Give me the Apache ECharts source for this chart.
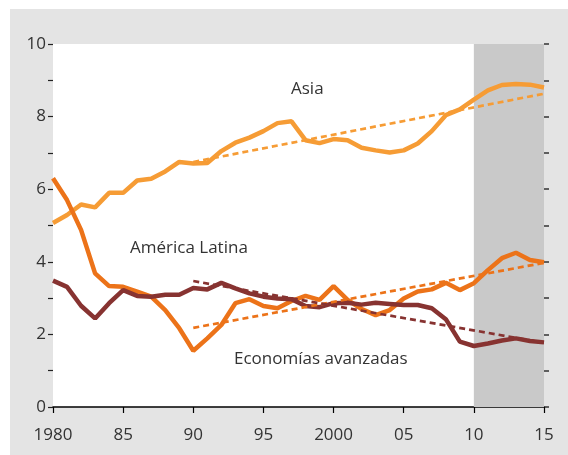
<!DOCTYPE html>
<html>
<head>
<meta charset="utf-8">
<script src="https://cdn.jsdelivr.net/npm/echarts@6/dist/echarts.min.js"></script>
<style>
html, body { margin: 0; padding: 0; background: #fff; }
#wrap { position: absolute; left: 10px; top: 9px; width: 558px; height: 446px; background: #e4e4e4; }
#chart { position: absolute; left: 0; top: 0; width: 568px; height: 455px; }
</style>
</head>
<body>
<div id="wrap"></div>
<div id="chart"></div>
<script>
// años 1980-2015
var years = [];
for (var y = 1980; y <= 2015; y++) years.push(y);

var asia = [5.07, 5.29, 5.58, 5.5, 5.9, 5.9, 6.24, 6.29, 6.49, 6.75, 6.71, 6.72, 7.05, 7.28, 7.42, 7.6, 7.82, 7.87, 7.35, 7.27, 7.38, 7.35, 7.14, 7.07, 7.01, 7.07, 7.26, 7.6, 8.04, 8.2, 8.47, 8.72, 8.87, 8.9, 8.88, 8.8];
var latina = [6.3, 5.7, 4.88, 3.68, 3.33, 3.31, 3.18, 3.04, 2.67, 2.17, 1.55, 1.89, 2.26, 2.86, 2.97, 2.78, 2.72, 2.92, 3.06, 2.95, 3.33, 2.95, 2.7, 2.53, 2.67, 2.99, 3.18, 3.24, 3.42, 3.22, 3.41, 3.77, 4.1, 4.25, 4.05, 3.99];
var avanzadas = [3.48, 3.31, 2.79, 2.44, 2.86, 3.22, 3.06, 3.04, 3.09, 3.09, 3.28, 3.24, 3.42, 3.27, 3.13, 3.04, 2.99, 2.97, 2.78, 2.75, 2.86, 2.87, 2.82, 2.87, 2.84, 2.81, 2.81, 2.72, 2.42, 1.8, 1.68, 1.75, 1.83, 1.89, 1.82, 1.78];

// tendencias 1990-2015
var trendYears = [1990, 2015];
var asiaTrend = [6.75, 8.63];
var latinaTrend = [2.18, 3.97];
var avanzadasTrend = [3.47, 1.77];

var shadeRange = [2010, 2015];
var xLabels = {1980: '1980', 1985: '85', 1990: '90', 1995: '95', 2000: '2000', 2005: '05', 2010: '10', 2015: '15'};

function pairs(xs, vs) {
    return xs.map(function (x, i) { return [x, vs[i]]; });
}

var font = 'Open Sans';
var textColor = '#333';
var myChart = echarts.init(document.getElementById('chart'), null, {renderer: 'canvas'});

function solid(name, vals, color) {
    return {
        name: name, type: 'line', data: pairs(years, vals), showSymbol: false, symbol: 'none',
        lineStyle: {color: color, width: 4.5}, z: 3
    };
}
function dashed(name, vals, color) {
    return {
        name: name, type: 'line', data: pairs(trendYears, vals), showSymbol: false, symbol: 'none',
        lineStyle: {color: color, width: 2.7, type: [6, 4]}, z: 4
    };
}

var option = {
    animation: false,
    grid: {left: 53, right: 24, top: 44, bottom: 48, show: true, backgroundColor: '#fff', borderWidth: 0},
    xAxis: {
        type: 'value', min: 1980, max: 2015, interval: 5,
        axisLine: {lineStyle: {color: '#000', width: 1.5}},
        axisTick: {length: 6, lineStyle: {color: '#000', width: 1.2}},
        axisLabel: {
            margin: 20, fontFamily: font, fontSize: 17, color: textColor,
            formatter: function (v) { return xLabels[v] || ''; }
        },
        splitLine: {show: false}
    },
    yAxis: [{
        type: 'value', min: 0, max: 10, interval: 1, position: 'left',
        axisLine: {show: false},
        axisTick: {show: true, length: 5, lineStyle: {color: '#222', width: 1.2}},
        axisLabel: {
            margin: 7, fontFamily: font, fontSize: 17, color: textColor,
            formatter: function (v) { return v % 2 === 0 ? String(v) : ''; }
        },
        splitLine: {show: false}
    }, {
        type: 'value', min: 0, max: 10, interval: 1, position: 'right',
        axisLine: {show: false},
        axisTick: {show: true, length: 5, lineStyle: {color: '#333', width: 1.5}},
        axisLabel: {show: false},
        splitLine: {show: false}
    }],
    graphic: [
        {type: 'text', left: 291, top: 81, style: {text: 'Asia', font: '17px "Open Sans"', fill: textColor}},
        {type: 'text', left: 130, top: 240, style: {text: 'América Latina', font: '17px "Open Sans"', fill: textColor}},
        {type: 'text', left: 234, top: 351, style: {text: 'Economías avanzadas', font: '17px "Open Sans"', fill: textColor}}
    ],
    series: [
        {
            name: 'sombra', type: 'line', data: [], z: 1,
            markArea: {
                silent: true,
                itemStyle: {color: '#c9c9c9'},
                data: [[{xAxis: shadeRange[0]}, {xAxis: shadeRange[1]}]]
            }
        },
        solid('Asia', asia, '#F69C35'),
        solid('América Latina', latina, '#EC7319'),
        solid('Economías avanzadas', avanzadas, '#873331'),
        dashed('Asia tendencia', asiaTrend, '#F69C35'),
        dashed('América Latina tendencia', latinaTrend, '#EC7319'),
        dashed('Economías avanzadas tendencia', avanzadasTrend, '#873331')
    ]
};
myChart.setOption(option);
</script>
</body>
</html>
